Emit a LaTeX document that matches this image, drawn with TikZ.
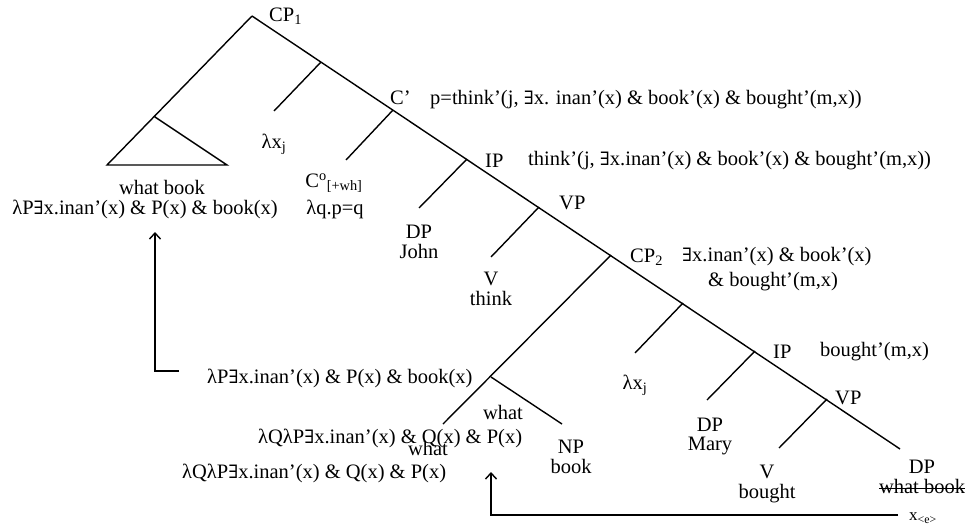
\documentclass[tikz,border=0pt]{standalone}
\usepackage{fontspec}
\setmainfont{Liberation Serif}
\newfontfamily\symfont[Scale=0.9]{DejaVu Serif}
\usetikzlibrary{positioning,arrows.meta}
\newcommand{\ex}{{\symfont ∃}}
\newcommand{\lamxj}{λx\textsubscript{j}}

\begin{document}
\begin{tikzpicture}[x=1pt, y=-1pt, font=\fontsize{20.5}{24}\selectfont, lbl/.style={inner sep=0pt}, branch/.style={line width=1.4pt}, arrow/.style={line width=1.4pt, -{Straight Barb[length=6pt,width=11pt]}}]
        \useasboundingbox (0,0) rectangle (968,525);
        % junctions of the tree
        \coordinate (top) at (252,16);
        \coordinate (tl) at (107,165);
        \coordinate (apex) at (155,117);
        \coordinate (tr) at (227,165);
        \coordinate (j1) at (321,62);
        \coordinate (e1) at (274,111);
        \coordinate (cbar) at (393,110);
        \coordinate (e2) at (346,160);
        \coordinate (ip1) at (467,159);
        \coordinate (e3) at (419,208);
        \coordinate (vp1) at (539,207);
        \coordinate (e4) at (491,257);
        \coordinate (cp2) at (611,255);
        \coordinate (dj) at (491,377);
        \coordinate (e5) at (443,424);
        \coordinate (e6) at (562,424);
        \coordinate (j2) at (683,303);
        \coordinate (e7) at (635,353);
        \coordinate (ip2) at (755,351);
        \coordinate (e8) at (707,400);
        \coordinate (vp2) at (827,399);
        \coordinate (e9) at (779,448);
        \coordinate (bot) at (900,449);
        % branches
        \draw[branch] (top) -- (bot);
        \draw[branch] (top) -- (tl) -- (tr) -- (apex);
        \draw[branch] (j1) -- (e1);
        \draw[branch] (cbar) -- (e2);
        \draw[branch] (ip1) -- (e3);
        \draw[branch] (vp1) -- (e4);
        \draw[branch] (cp2) -- (e5);
        \draw[branch] (dj) -- (e6);
        \draw[branch] (j2) -- (e7);
        \draw[branch] (ip2) -- (e8);
        \draw[branch] (vp2) -- (e9);
        % labels on the spine
        \node[lbl, anchor=west] (cp1l) at (269,16) {CP\textsubscript{1}};
        \node[lbl, anchor=west] (cbarl) at (390,98) {C’};
        \node[lbl, anchor=west] (cbarsem) at (430,100) {p=think’(j, \ex x. inan’(x) \& book’(x) \& bought’(m,x))};
        \node[lbl, anchor=west] (ip1l) at (485,161) {IP};
        \node[lbl, anchor=west] (ip1sem) at (528,161) {think’(j, \ex x.inan’(x) \& book’(x) \& bought’(m,x))};
        \node[lbl, anchor=west] (vp1l) at (559,203) {VP};
        \node[lbl, anchor=west] (cp2l) at (630,257) {CP\textsubscript{2}};
        \node[lbl, anchor=west] (cp2sem) at (682,257) {\ex x.inan’(x) \& book’(x)};
        \node[lbl, anchor=west] (cp2sem2) at (708,282) {\& bought’(m,x)};
        \node[lbl, anchor=west] (ip2l) at (773,352) {IP};
        \node[lbl, anchor=west] (ip2sem) at (820,352) {bought’(m,x)};
        \node[lbl, anchor=west] (vp2l) at (835,398) {VP};
        % leaves
        \node[lbl] (wb) at (162,187) {what book};
        \node[lbl] (wbsem) at (145,209) {λP\ex x.inan’(x) \& P(x) \& book(x)};
        \node[lbl] (lx1) at (274,144) {\lamxj};
        \node[lbl] (c0) at (334,183) {C\textsuperscript{o}\textsubscript{[+wh]}};
        \node[lbl] (c0sem) at (335,209) {λq.p=q};
        \node[lbl] (dpj) at (419,232) {DP};
        \node[lbl, below=5pt of dpj] (john) {John};
        \node[lbl] (vt) at (491,279) {V};
        \node[lbl, below=5pt of vt] (think) {think};
        \node[lbl] (wh1) at (503,412) {what};
        \node[lbl] (wh2) at (428,448) {what};
        \node[lbl] (np) at (571,447) {NP};
        \node[lbl, below=5pt of np] (bk) {book};
        \node[lbl] (lx2) at (635,385) {\lamxj};
        \node[lbl] (dpm) at (710,425) {DP};
        \node[lbl, below=5pt of dpm] (mary) {Mary};
        \node[lbl] (vb) at (767,472) {V};
        \node[lbl, below=5pt of vb] (bought) {bought};
        \node[lbl] (dpw) at (922,467) {DP};
        \node[lbl, below=5pt of dpw] (wbk) {what book};
        \draw[line width=1.2pt] ([yshift=-2pt]wbk.west) -- ([yshift=-2pt]wbk.east);
        \node[lbl, font=\fontsize{17}{19}\selectfont] (xe) at (923,518) {x\textsubscript{<e>}};
        % meanings of what and what book
        \node[lbl, anchor=west] (wbsem2) at (207,378) {λP\ex x.inan’(x) \& P(x) \& book(x)};
        \node[lbl, anchor=west] (whsem1) at (258,438) {λQλP\ex x.inan’(x) \& Q(x) \& P(x)};
        \node[lbl, anchor=west] (whsem2) at (182,473) {λQλP\ex x.inan’(x) \& Q(x) \& P(x)};
        % arrows
        \coordinate (a1s) at (179,371);
        \coordinate (a1) at (155,232);
        \coordinate (a2s) at (898,515);
        \coordinate (a2) at (491,472);
        \draw[arrow] (a1s) -| (a1);
        \draw[arrow] (a2s) -| (a2);
    \end{tikzpicture}
\end{document}
